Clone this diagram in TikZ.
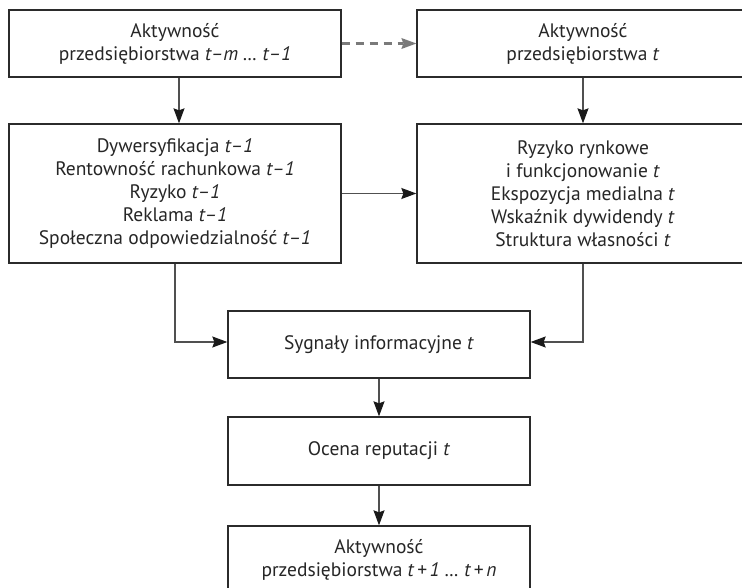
\documentclass[tikz,border=0pt]{standalone}
\usepackage{fontspec}
\setmainfont{PT Sans}
\usetikzlibrary{arrows.meta}
\definecolor{boxline}{HTML}{2B2B2B}
\definecolor{conn}{HTML}{505050}
\definecolor{dashc}{HTML}{7A7A7A}
\definecolor{tipc}{HTML}{1A1A1A}
\tikzset{
  box/.style={draw=boxline, line width=1.3pt, rectangle, align=center, inner sep=2pt,
    font=\fontsize{19.5}{23}\selectfont, text=black!85},
  wide/.style={minimum width=332pt},
  mid/.style={minimum width=302pt},
  conn/.style={draw=conn, line width=1.3pt, -{Stealth[length=15pt,width=11pt,inset=2pt,color=tipc]}},
  dconn/.style={draw=dashc, line width=2.3pt, dash pattern=on 8pt off 6pt,
    -{Stealth[length=15pt,width=11pt,inset=2pt,color=dashc,line width=0pt]}},
}
\begin{document}
\begin{tikzpicture}[x=1pt,y=1pt]
\useasboundingbox (0,0) rectangle (742,-588);
\fill[white] (0,0) rectangle (742,-588);
\begin{scope}
\clip (0,0) rectangle (742,-588);
\node[box, wide, minimum height=67pt] (b1) at (175,-43.5) {Aktywność\\przedsiębiorstwa \textit{t–m … t–1}};
\node[box, wide, minimum height=67pt] (b2) at (583,-43.5) {Aktywność\\przedsiębiorstwa \textit{t}};
\node[box, wide, minimum height=139pt] (b3) at (175,-193.5) {Dywersyfikacja \textit{t–1}\\Rentowność rachunkowa \textit{t–1}\\Ryzyko \textit{t–1}\\Reklama \textit{t–1}\\Społeczna odpowiedzialność \textit{t–1}};
\node[box, wide, minimum height=139pt] (b4) at (583,-193.5) {Ryzyko rynkowe\\i funkcjonowanie \textit{t}\\Ekspozycja medialna \textit{t}\\Wskaźnik dywidendy \textit{t}\\Struktura własności \textit{t}};
\node[box, mid, minimum height=67pt] (b5) at (379,-344.5) {Sygnały informacyjne \textit{t}};
\node[box, mid, minimum height=68pt] (b6) at (379,-451) {Ocena reputacji \textit{t}};
\node[box, mid, minimum height=67pt] (b7) at (379,-559.5) {Aktywność\\przedsiębiorstwa \textit{t\,+\,1 … t\,+\,n}};

\coordinate (c1) at (179,0);
\draw[conn] (b1.south -| c1) -- (b3.north -| c1);
\draw[conn] (b2.south) -- (b4.north);
\draw[dconn] (b1.east) -- (b2.west);
\draw[conn] (b3.east) -- (b4.west);
\coordinate (ly) at (0,-342);
\draw[conn] (b3.south) |- (b5.west |- ly);
\draw[conn] (b4.south) |- (b5.east |- ly);
\draw[conn] (b5.south) -- (b6.north);
\draw[conn] (b6.south) -- (b7.north);
\end{scope}
\end{tikzpicture}
\end{document}
